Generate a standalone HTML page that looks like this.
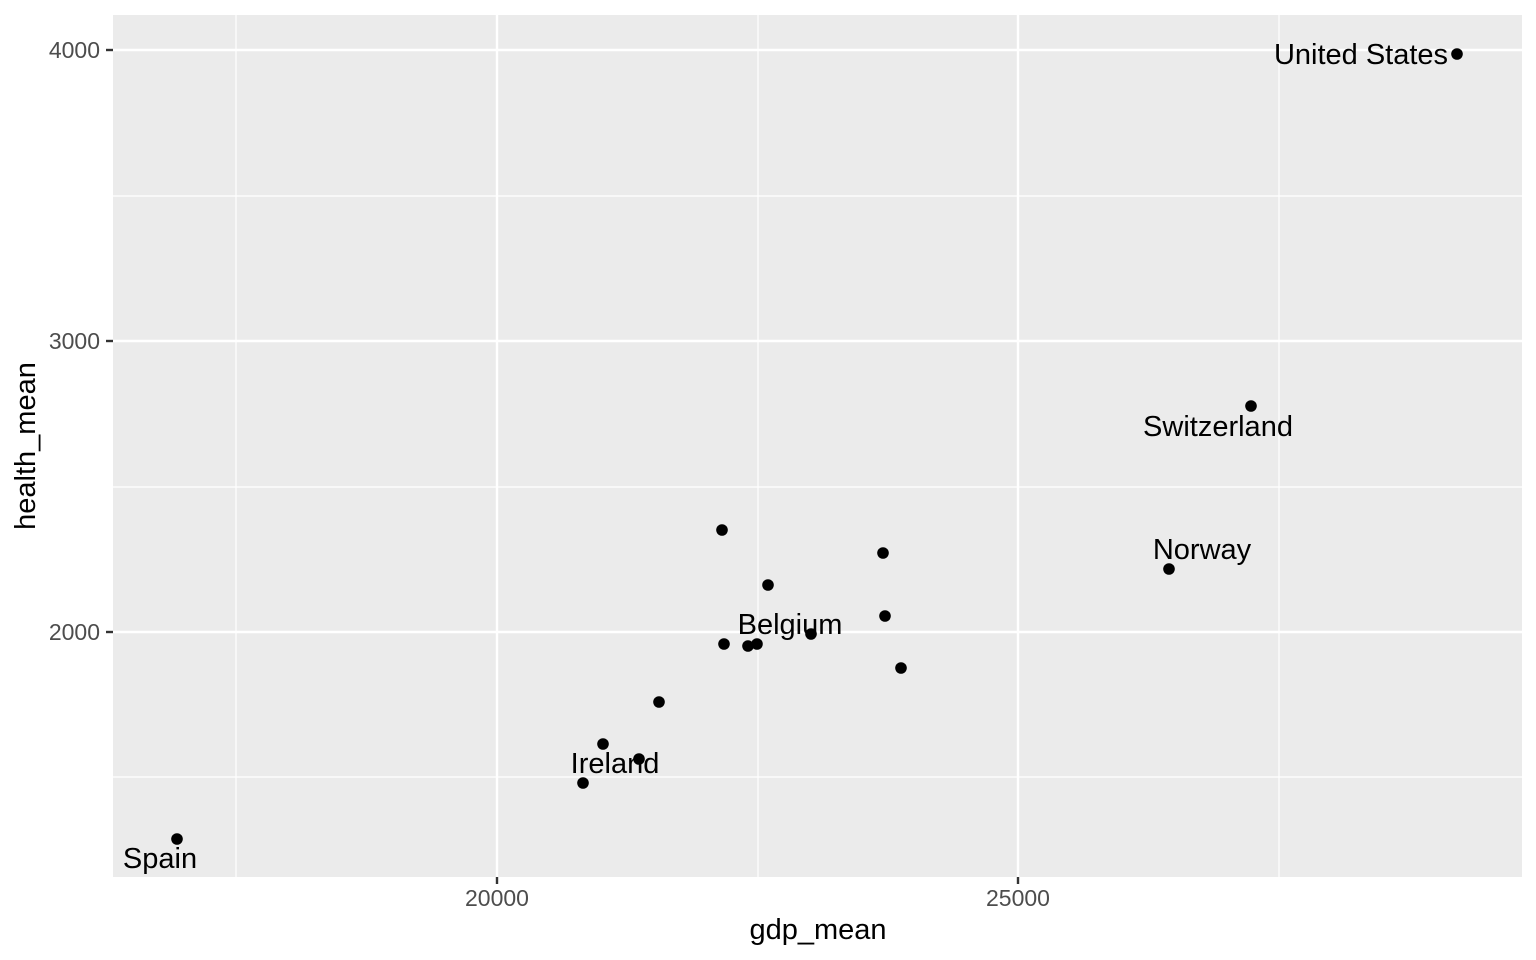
<!DOCTYPE html>
<html><head><meta charset="utf-8"><style>body{margin:0;background:#fff}svg{display:block}</style></head>
<body>
<svg width="1536" height="960" xmlns="http://www.w3.org/2000/svg" font-family="Liberation Sans, sans-serif">
<rect x="113" y="15" width="1409" height="862" fill="#ebebeb"/>
<g stroke="#fff" stroke-width="1.2">
<line x1="236" y1="15" x2="236" y2="877"/><line x1="758" y1="15" x2="758" y2="877"/><line x1="1279" y1="15" x2="1279" y2="877"/>
<line x1="113" y1="196" x2="1522" y2="196"/><line x1="113" y1="487" x2="1522" y2="487"/><line x1="113" y1="777" x2="1522" y2="777"/>
</g>
<g stroke="#fff" stroke-width="2.4">
<line x1="497" y1="15" x2="497" y2="877"/><line x1="1018" y1="15" x2="1018" y2="877"/>
<line x1="113" y1="50" x2="1522" y2="50"/><line x1="113" y1="341" x2="1522" y2="341"/><line x1="113" y1="632" x2="1522" y2="632"/>
</g>
<g stroke="#333" stroke-width="2.4">
<line x1="106" y1="50" x2="113" y2="50"/><line x1="106" y1="341" x2="113" y2="341"/><line x1="106" y1="632" x2="113" y2="632"/>
<line x1="497" y1="877" x2="497" y2="884"/><line x1="1018" y1="877" x2="1018" y2="884"/>
</g>
<g fill="#4d4d4d" font-size="23" text-anchor="end">
<text x="100" y="58">4000</text><text x="100" y="349">3000</text><text x="100" y="640">2000</text>
</g>
<g fill="#4d4d4d" font-size="23" text-anchor="middle">
<text x="497" y="906">20000</text><text x="1018" y="906">25000</text>
</g>
<text x="818" y="939" font-size="29" text-anchor="middle">gdp_mean</text>
<text transform="translate(35,446) rotate(-90)" font-size="29" text-anchor="middle">health_mean</text>
<g fill="#000">
<circle cx="1457" cy="54" r="5.8"/><circle cx="1251" cy="406" r="5.8"/><circle cx="1169" cy="569" r="5.8"/>
<circle cx="722" cy="530" r="5.8"/><circle cx="883" cy="553" r="5.8"/><circle cx="768" cy="585" r="5.8"/>
<circle cx="885" cy="616" r="5.8"/><circle cx="811" cy="634" r="5.8"/><circle cx="724" cy="644" r="5.8"/>
<circle cx="748" cy="646" r="5.8"/><circle cx="757" cy="644" r="5.8"/><circle cx="901" cy="668" r="5.8"/>
<circle cx="659" cy="702" r="5.8"/><circle cx="603" cy="744" r="5.8"/><circle cx="639" cy="759" r="5.8"/>
<circle cx="583" cy="783" r="5.8"/><circle cx="177" cy="839" r="5.8"/>
</g>
<g font-size="29" fill="#000" text-anchor="middle">
<text x="1361" y="64">United States</text>
<text x="1218" y="436">Switzerland</text>
<text x="1202" y="559">Norway</text>
<text x="790" y="634">Belgium</text>
<text x="615" y="773">Ireland</text>
<text x="160" y="868">Spain</text>
</g>
</svg>
</body></html>
